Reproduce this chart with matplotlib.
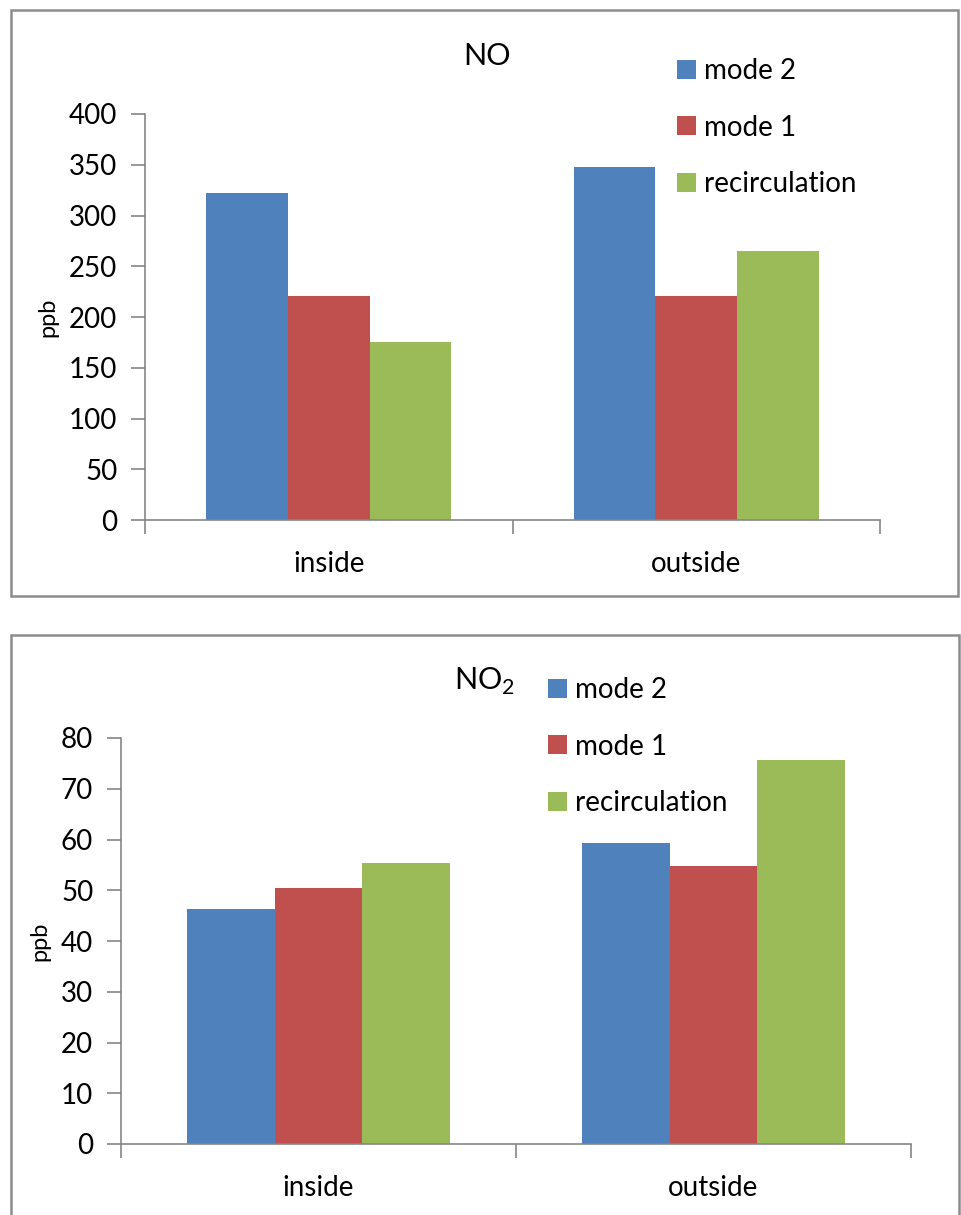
import numpy as np
import matplotlib
matplotlib.use("Agg")
import matplotlib.pyplot as plt
from matplotlib.patches import Rectangle, Patch

plt.rcParams["font.family"] = ["Lato", "DejaVu Sans"]
plt.rcParams["mathtext.fontset"] = "custom"
plt.rcParams["mathtext.rm"] = "Lato"

categories = ["inside", "outside"]
series     = ["mode 2", "mode 1", "recirculation"]
colors     = ["#4F81BD", "#C0504D", "#9BBB59"]

no_values  = [[322, 348], [221, 221], [175, 265]]
no2_values = [[46.3, 59.3], [50.4, 54.7], [55.4, 75.7]]

no_ticks  = [0, 50, 100, 150, 200, 250, 300, 350, 400]
no2_ticks = [0, 10, 20, 30, 40, 50, 60, 70, 80]

W, H = 961, 1215
GRAY = "#868686"
FS = 20


def px(x0, y0, x1, y1):
    # pixel box -> figure fraction [left, bottom, width, height]
    return [x0 / W, 1 - y1 / H, (x1 - x0) / W, (y1 - y0) / H]


def draw_panel(fig, box, values, ticks, title, title_xy, legend_xy, ylab_x):
    ax = fig.add_axes(px(*box))
    x = np.arange(len(categories))
    bw = 1 / 4.5
    for j, (name, col) in enumerate(zip(series, colors)):
        ax.bar(x + (j - 1) * bw, values[j], width=bw, color=col, label=name,
               edgecolor="none")

    ax.set_xlim(-0.5, len(categories) - 0.5)
    ax.set_ylim(ticks[0], ticks[-1])
    ax.set_yticks(ticks)
    ax.set_yticklabels([str(t) for t in ticks], fontsize=FS)

    ax.set_xticks(np.arange(-0.5, len(categories)), minor=False)
    ax.set_xticklabels([])
    ax.set_xticks(x, minor=True)
    ax.set_xticklabels(categories, minor=True, fontsize=FS)
    ax.tick_params(axis="x", which="major", length=10, width=1.2, color=GRAY)
    ax.tick_params(axis="x", which="minor", length=0, pad=22)
    ax.tick_params(axis="y", length=10, width=1.2, color=GRAY, pad=10)

    for s in ["top", "right"]:
        ax.spines[s].set_visible(False)
    for s in ["left", "bottom"]:
        ax.spines[s].set_color(GRAY)
        ax.spines[s].set_linewidth(1.2)

    ax.set_ylabel("ppb", fontsize=17, labelpad=0)
    ax.yaxis.set_label_coords((ylab_x - box[0]) / (box[2] - box[0]), 0.5)

    fig.text(title_xy[0] / W, 1 - title_xy[1] / H, title, fontsize=22,
             ha="center", va="baseline")

    handles = [Patch(facecolor=c, label=s) for s, c in zip(series, colors)]
    fig.legend(handles=handles, loc="upper left",
               bbox_to_anchor=(legend_xy[0] / W, 1 - legend_xy[1] / H),
               frameon=False, fontsize=FS, handlelength=0.68, handleheight=0.68,
               handletextpad=0.29, labelspacing=1.1, borderpad=0, borderaxespad=0)
    return ax


fig = plt.figure(figsize=(W / 100, H / 100), dpi=100)

# panel frames
fig.patches.append(Rectangle((11 / W, 1 - 596 / H), 947 / W, 586 / H,
                             transform=fig.transFigure, fill=False,
                             edgecolor="#8C8C8C", linewidth=1.8))
fig.patches.append(Rectangle((11 / W, 1 - 1225 / H), 948 / W, 590 / H,
                             transform=fig.transFigure, fill=False,
                             edgecolor="#8C8C8C", linewidth=1.8))

draw_panel(fig, (145, 114, 880, 520), no_values, no_ticks, "NO",
           (487, 65), (677, 58), 58)
draw_panel(fig, (121, 738, 911, 1144), no2_values, no2_ticks, r"NO$_2$",
           (485, 690), (548, 677), 50)

fig.savefig("out.png", dpi=100)
